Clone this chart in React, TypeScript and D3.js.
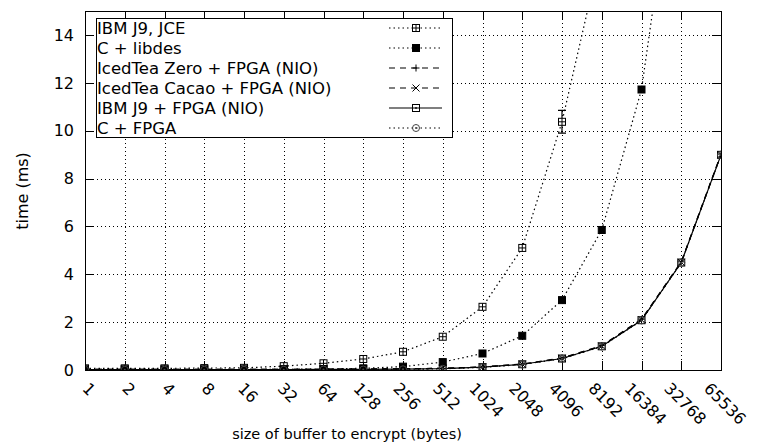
import React, { useEffect, useRef } from "react";
import * as d3 from "d3";

// buffer sizes (bytes) on the x axis
const sizes = [
  "1", "2", "4", "8", "16", "32", "64", "128", "256", "512",
  "1024", "2048", "4096", "8192", "16384", "32768", "65536",
];

// times in ms (values above 15 run off the top)
const ibmJce = [0.07, 0.07, 0.07, 0.08, 0.09, 0.16, 0.28, 0.46, 0.76, 1.39, 2.64, 5.1, 10.37, 17.6, 35, 70, 140];
const cLibdes = [0.02, 0.02, 0.02, 0.02, 0.02, 0.03, 0.04, 0.07, 0.14, 0.33, 0.69, 1.43, 2.92, 5.85, 11.72, 23.4, 46.8];
const zeroFpga = [0.03, 0.03, 0.03, 0.03, 0.03, 0.03, 0.03, 0.04, 0.05, 0.07, 0.13, 0.25, 0.5, 1.02, 2.12, 4.52, 9.02];
const cacaoFpga = [0.03, 0.03, 0.03, 0.03, 0.03, 0.03, 0.03, 0.04, 0.05, 0.07, 0.12, 0.24, 0.49, 1.0, 2.1, 4.5, 9.0];
const j9Fpga = [0.02, 0.02, 0.02, 0.02, 0.02, 0.02, 0.03, 0.03, 0.04, 0.06, 0.12, 0.24, 0.48, 0.99, 2.08, 4.49, 8.99];
const cFpga = [0.01, 0.01, 0.01, 0.01, 0.01, 0.01, 0.02, 0.02, 0.03, 0.05, 0.11, 0.23, 0.47, 0.98, 2.07, 4.48, 8.98];

// the one visible error bar: IBM J9, JCE at 4096 bytes
const jceErr = { size: "4096", lo: 9.9, hi: 10.85 };

const yTicks = [0, 2, 4, 6, 8, 10, 12, 14];

type Marker = "boxplus" | "filledbox" | "plus" | "cross" | "boxdot" | "circledot";

const series: { name: string; values: number[]; dash: string | null; marker: Marker }[] = [
  { name: "IBM J9, JCE", values: ibmJce, dash: "1.5,3", marker: "boxplus" },
  { name: "C + libdes", values: cLibdes, dash: "1.5,3", marker: "filledbox" },
  { name: "IcedTea Zero + FPGA (NIO)", values: zeroFpga, dash: "6,5", marker: "plus" },
  { name: "IcedTea Cacao + FPGA (NIO)", values: cacaoFpga, dash: "6,5", marker: "cross" },
  { name: "IBM J9 + FPGA (NIO)", values: j9Fpga, dash: null, marker: "boxdot" },
  { name: "C + FPGA", values: cFpga, dash: "1.5,3", marker: "circledot" },
];

function drawMarker(g: d3.Selection<SVGGElement, unknown, null, undefined>, kind: Marker, cx: number, cy: number) {
  const s = 3.5;
  const m = g.append("g").attr("transform", `translate(${cx},${cy})`).attr("stroke", "#000").attr("stroke-width", 1);
  if (kind === "boxplus") {
    m.append("rect").attr("x", -s).attr("y", -s).attr("width", 2 * s).attr("height", 2 * s).attr("fill", "#fff");
    m.append("path").attr("d", `M${-s},0H${s}M0,${-s}V${s}`);
  } else if (kind === "filledbox") {
    m.append("rect").attr("x", -s).attr("y", -s).attr("width", 2 * s).attr("height", 2 * s).attr("fill", "#000");
  } else if (kind === "plus") {
    m.append("path").attr("d", `M${-s},0H${s}M0,${-s}V${s}`);
  } else if (kind === "cross") {
    m.append("path").attr("d", `M${-s},${-s}L${s},${s}M${-s},${s}L${s},${-s}`);
  } else if (kind === "boxdot") {
    m.append("rect").attr("x", -s).attr("y", -s).attr("width", 2 * s).attr("height", 2 * s).attr("fill", "none");
    m.append("rect").attr("x", -0.8).attr("y", -0.8).attr("width", 1.6).attr("height", 1.6).attr("fill", "#000").attr("stroke", "none");
  } else {
    m.append("circle").attr("r", s).attr("fill", "none").attr("stroke", "#444");
    m.append("circle").attr("r", 1).attr("fill", "#444").attr("stroke", "none");
  }
}

const App = () => {
  const svgRef = useRef<SVGSVGElement | null>(null);

  useEffect(() => {
    document.body.style.margin = "0";

    const width = 763;
    const height = 445;
    const left = 85;
    const right = 721;
    const top = 11;
    const bottom = 370;
    const tickLen = 9;
    const font = "DejaVu Sans, sans-serif";

    const x = d3.scalePoint<string>().domain(sizes).range([left, right]).padding(0);
    const y = d3.scaleLinear().domain([0, 15]).range([bottom, top]);

    const svg = d3.select(svgRef.current).attr("width", width).attr("height", height).style("display", "block");
    svg.selectAll("*").remove();

    svg.append("defs").append("clipPath").attr("id", "plot-clip")
      .append("rect").attr("x", left).attr("y", top).attr("width", right - left).attr("height", bottom - top);

    // grid
    const grid = svg.append("g").attr("stroke", "#000").attr("stroke-width", 1).attr("stroke-dasharray", "1,3");
    yTicks.slice(1).forEach((t) => {
      grid.append("line").attr("x1", left).attr("x2", right).attr("y1", Math.round(y(t)) + 0.5).attr("y2", Math.round(y(t)) + 0.5);
    });
    sizes.slice(1, -1).forEach((s) => {
      grid.append("line").attr("x1", Math.round(x(s)!) + 0.5).attr("x2", Math.round(x(s)!) + 0.5).attr("y1", top).attr("y2", bottom);
    });

    // ticks (mirrored on all sides)
    const ticks = svg.append("g").attr("stroke", "#000").attr("stroke-width", 1);
    yTicks.forEach((t) => {
      const yy = Math.round(y(t)) + 0.5;
      ticks.append("line").attr("x1", left).attr("x2", left + tickLen).attr("y1", yy).attr("y2", yy);
      ticks.append("line").attr("x1", right).attr("x2", right - tickLen).attr("y1", yy).attr("y2", yy);
    });
    sizes.forEach((s) => {
      const xx = Math.round(x(s)!) + 0.5;
      ticks.append("line").attr("x1", xx).attr("x2", xx).attr("y1", bottom).attr("y2", bottom - tickLen);
      ticks.append("line").attr("x1", xx).attr("x2", xx).attr("y1", top).attr("y2", top + tickLen);
    });

    // tick labels
    svg.append("g").selectAll("text").data(yTicks).join("text")
      .attr("x", 74).attr("y", (d) => y(d)).attr("dy", "0.36em")
      .attr("text-anchor", "end").attr("font-family", font).attr("font-size", 16)
      .text((d) => d);

    // rotated x labels: tops aligned under the axis, centred on their tick
    const svgBox = svgRef.current!.getBoundingClientRect();
    svg.append("g").selectAll("text").data(sizes).join("text")
      .attr("transform", "rotate(45)")
      .attr("text-anchor", "start").attr("font-family", font).attr("font-size", 16)
      .text((d) => d)
      .each(function (d) {
        const b = (this as SVGTextElement).getBoundingClientRect();
        const cx = b.left - svgBox.left + b.width / 2;
        const ty = b.top - svgBox.top;
        const dx = x(d)! + 4 - cx;
        const dy = bottom + 9 - ty;
        d3.select(this).attr("transform", `translate(${dx},${dy}) rotate(45)`);
      });

    // axis titles
    svg.append("text")
      .attr("transform", `translate(28,191) rotate(-90)`)
      .attr("text-anchor", "middle").attr("font-family", font).attr("font-size", 16)
      .text("time (ms)");
    svg.append("text")
      .attr("x", 347).attr("y", 439)
      .attr("text-anchor", "middle").attr("font-family", font).attr("font-size", 14.5)
      .text("size of buffer to encrypt (bytes)");

    // series
    const plot = svg.append("g").attr("clip-path", "url(#plot-clip)");
    const line = d3.line<number>().x((_, i) => x(sizes[i])!).y((d) => y(d));

    series.forEach((s) => {
      plot.append("path")
        .attr("fill", "none").attr("stroke", "#000").attr("stroke-width", 1.2)
        .attr("stroke-dasharray", s.dash)
        .attr("d", line(s.values));
    });

    // error bar
    const ex = x(jceErr.size)!;
    plot.append("path")
      .attr("fill", "none").attr("stroke", "#000").attr("stroke-width", 1.2)
      .attr("d", `M${ex},${y(jceErr.lo)}V${y(jceErr.hi)}M${ex - 4},${y(jceErr.lo)}H${ex + 4}M${ex - 4},${y(jceErr.hi)}H${ex + 4}`);

    series.forEach((s) => {
      const mg = plot.append("g");
      s.values.forEach((v, i) => {
        if (v <= 15.5) drawMarker(mg, s.marker, x(sizes[i])!, y(v));
      });
    });

    // border
    svg.append("rect")
      .attr("x", left + 0.5).attr("y", top + 0.5).attr("width", right - left).attr("height", bottom - top)
      .attr("fill", "none").attr("stroke", "#000").attr("stroke-width", 1);

    // legend
    const lg = svg.append("g");
    lg.append("rect").attr("x", 96.5).attr("y", 18.5).attr("width", 356).attr("height", 119)
      .attr("fill", "#fff").attr("stroke", "#000").attr("stroke-width", 1);
    series.forEach((s, i) => {
      const ry = 28 + i * 20;
      lg.append("text").attr("x", 97).attr("y", ry).attr("dy", "0.36em")
        .attr("font-family", font).attr("font-size", 16.5).text(s.name);
      lg.append("line").attr("x1", 389).attr("x2", 442).attr("y1", ry).attr("y2", ry)
        .attr("stroke", "#000").attr("stroke-width", 1.2).attr("stroke-dasharray", s.dash);
      drawMarker(lg, s.marker, 416, ry);
    });
  }, []);

  return <svg ref={svgRef}></svg>;
};

export default App;
